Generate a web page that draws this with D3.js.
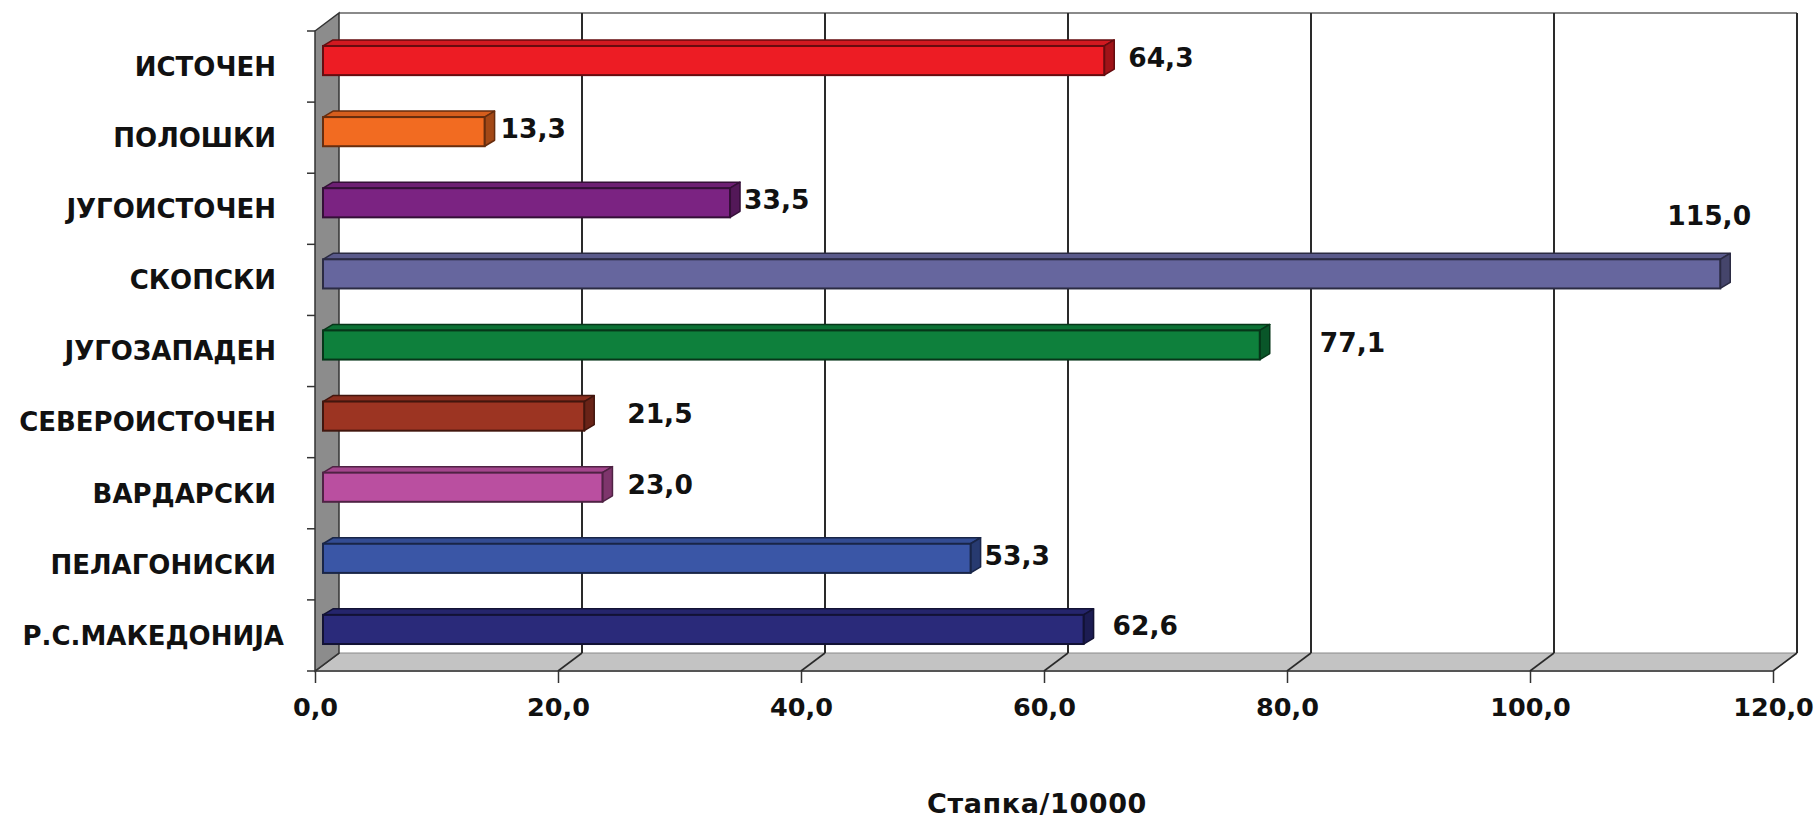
<!DOCTYPE html>
<html>
<head>
<meta charset="utf-8">
<script src="https://cdn.jsdelivr.net/npm/d3@7"></script>
<style>
  html, body { margin: 0; padding: 0; background: #fff; }
  svg { display: block; }
  text { font-family: "DejaVu Sans", Verdana, sans-serif; font-weight: bold; fill: #111; }
</style>
</head>
<body>
<svg id="chart" width="1820" height="822"></svg>
<script>
// ---- data ----
const categories = ["ИСТОЧЕН", "ПОЛОШКИ", "ЈУГОИСТОЧЕН", "СКОПСКИ", "ЈУГОЗАПАДЕН",
                    "СЕВЕРОИСТОЧЕН", "ВАРДАРСКИ", "ПЕЛАГОНИСКИ", "Р.С.МАКЕДОНИЈА"];
const values = [64.3, 13.3, 33.5, 115.0, 77.1, 21.5, 23.0, 53.3, 62.6];
const xTicks = [0, 20, 40, 60, 80, 100, 120];
const axisTitle = "Стапка/10000";

// ---- styles / layout ----
const barColors = ["#ED1C24", "#F26B21", "#7B2382", "#66669E", "#0E803C",
                   "#9C3422", "#BA4FA0", "#3A56A6", "#2A2A7A"];
// manual label nudges (px) relative to the bar's back-right corner
const labelNudge = [[14, -3], [6, -3], [4, -3], [-63, -58], [50, -3], [33, -3], [15, -3], [4, -3], [19, -4]];

const svg = d3.select("#chart");
const X0 = 315, X1 = 1773, Y0 = 31, Y1 = 671;
const DX = 24, DY = -18;           // full depth offset
const x = d3.scaleLinear().domain([0, 120]).range([X0, X1]);
const y = d3.scaleBand().domain(categories).range([Y0, Y1]);
const fmt = d3.formatLocale({decimal: ",", thousands: ".", grouping: [3], currency: ["", ""]}).format(".1f");

const pt = (px, py) => px + "," + py;
const poly = p => p.map(q => pt(q[0], q[1])).join(" ");

// back wall
svg.append("rect").attr("x", X0 + DX).attr("y", Y0 + DY).attr("width", X1 - X0).attr("height", Y1 - Y0)
  .attr("fill", "#fff").attr("stroke", "none");
svg.append("line").attr("x1", X0 + DX).attr("x2", X1 + DX).attr("y1", Y0 + DY).attr("y2", Y0 + DY)
  .attr("stroke", "#8a8a8a").attr("stroke-width", 2);

// floor
svg.append("polygon")
  .attr("points", poly([[X0, Y1], [X1, Y1], [X1 + DX, Y1 + DY], [X0 + DX, Y1 + DY]]))
  .attr("fill", "#C3C3C3").attr("stroke", "#8a8a8a").attr("stroke-width", 1);
svg.append("line").attr("x1", X0).attr("x2", X1).attr("y1", Y1).attr("y2", Y1)
  .attr("stroke", "#555").attr("stroke-width", 2);

// gridlines (back wall + floor diagonal)
xTicks.forEach(t => {
  const fx = x(t);
  if (t > 0) {
    svg.append("line").attr("x1", fx + DX).attr("x2", fx + DX).attr("y1", Y0 + DY).attr("y2", Y1 + DY)
      .attr("stroke", "#2a2a2a").attr("stroke-width", 2);
  }
  svg.append("line").attr("x1", fx + DX).attr("y1", Y1 + DY).attr("x2", fx).attr("y2", Y1)
    .attr("stroke", "#2a2a2a").attr("stroke-width", 1.6);
});

// left wall
svg.append("polygon")
  .attr("points", poly([[X0, Y0], [X0 + DX, Y0 + DY], [X0 + DX, Y1 + DY], [X0, Y1]]))
  .attr("fill", "#8C8C8C").attr("stroke", "#333").attr("stroke-width", 1.5);

// x axis ticks and labels
const xAxis = d3.axisBottom(x).tickValues(xTicks).tickSize(12).tickSizeOuter(0).tickFormat(fmt);
const gx = svg.append("g").attr("transform", `translate(0,${Y1})`).call(xAxis);
gx.select(".domain").remove();
gx.selectAll(".tick line").attr("stroke", "#333").attr("stroke-width", 1.5);
gx.selectAll(".tick text").attr("y", 36).attr("dy", "0.35em")
  .style("font-size", "25.5px").style("font-family", "'DejaVu Sans', sans-serif").style("font-weight", "bold").attr("fill", "#111");

// y axis ticks and labels
const boundaries = d3.range(categories.length + 1).map(i => Y0 + i * y.step());
boundaries.forEach(b => {
  svg.append("line").attr("x1", X0 - 8).attr("x2", X0).attr("y1", b).attr("y2", b)
    .attr("stroke", "#333").attr("stroke-width", 1.5);
});
svg.append("g").selectAll("text").data(categories).join("text")
  .attr("x", (d, i) => i === categories.length - 1 ? 284 : 276)
  .attr("y", d => y(d) + y.bandwidth() / 2).attr("dy", "0.36em")
  .attr("text-anchor", "end").style("font-size", "26px").text(d => d);

// bars (3D)
const f1 = [8, -6], f2 = [18, -12];
const barH = y.bandwidth() * 0.41;
const g = svg.append("g");
categories.forEach((c, i) => {
  const v = values[i];
  const col = d3.color(barColors[i]);
  const top = col.darker(0.35).formatHex();
  const side = col.darker(1.1).formatHex();
  const edge = col.darker(2.4).formatHex();
  const xa = x(0) + f1[0], xb = x(v) + f1[0];
  const ya = y(c) + y.bandwidth() / 2 + f1[1] - barH / 2, yb = ya + barH;
  const ddx = f2[0] - f1[0], ddy = f2[1] - f1[1];
  // top face
  g.append("polygon").attr("points", poly([[xa, ya], [xb, ya], [xb + ddx, ya + ddy], [xa + ddx, ya + ddy]]))
    .attr("fill", top).attr("stroke", edge).attr("stroke-width", 1.5).attr("stroke-linejoin", "round");
  // side face
  g.append("polygon").attr("points", poly([[xb, ya], [xb + ddx, ya + ddy], [xb + ddx, yb + ddy], [xb, yb]]))
    .attr("fill", side).attr("stroke", edge).attr("stroke-width", 1.5).attr("stroke-linejoin", "round");
  // front face
  g.append("rect").attr("x", xa).attr("y", ya).attr("width", xb - xa).attr("height", barH)
    .attr("fill", col.formatHex()).attr("stroke", edge).attr("stroke-width", 2);
  // value label
  g.append("text").attr("x", xb + ddx + labelNudge[i][0])
    .attr("y", y(c) + y.bandwidth() / 2 + f1[1] + labelNudge[i][1]).attr("dy", "0.36em")
    .style("font-size", "26.5px").text(fmt(v));
});

// axis title
svg.append("text").attr("x", 1037).attr("y", 804).attr("dy", "0.35em").attr("text-anchor", "middle")
  .style("font-size", "27px").style("letter-spacing", "0.6px").text(axisTitle);
</script>
</body>
</html>
